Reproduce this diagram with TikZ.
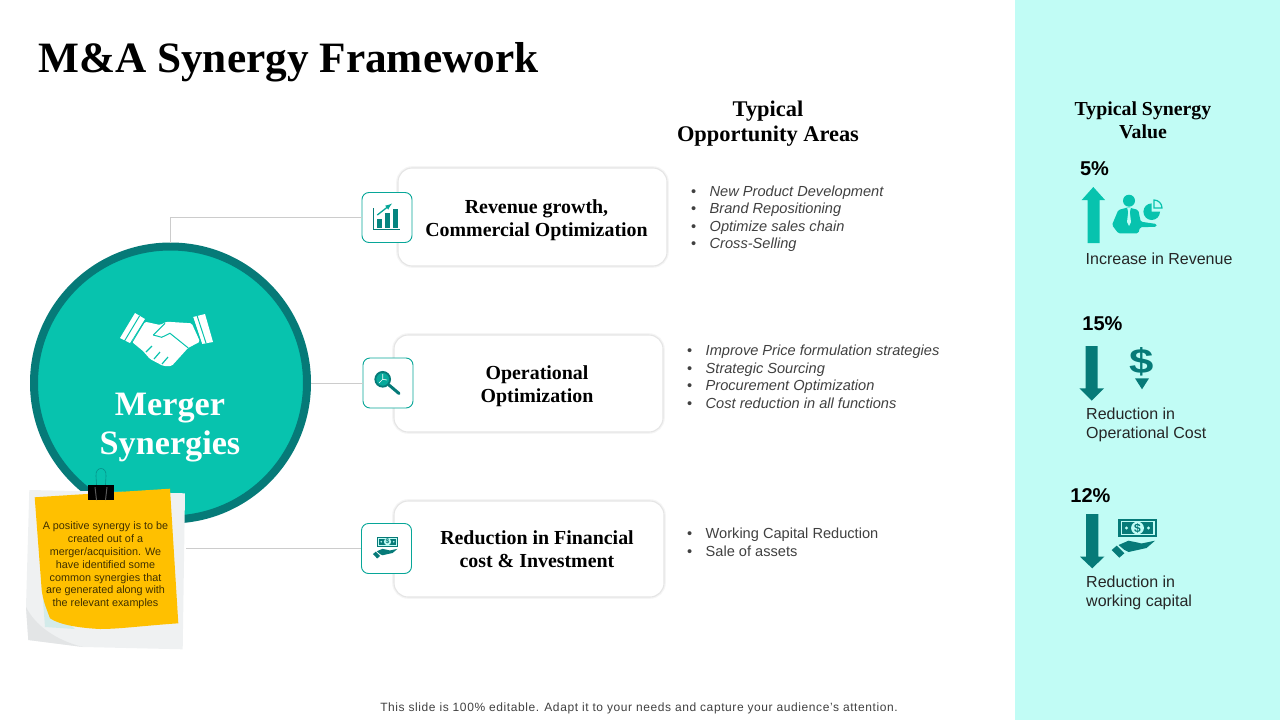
\documentclass[tikz,border=0pt]{standalone}
\usepackage{fontspec}
\setmainfont{Liberation Sans}
\newfontfamily\headfont{Liberation Serif}
\definecolor{brandteal}{HTML}{07C3AE}
\definecolor{ringteal}{HTML}{067A78}
\definecolor{panelcyan}{HTML}{C1FCF5}
\definecolor{noteyellow}{HTML}{FFC000}
\definecolor{sheetgray}{HTML}{EFF1F2}
\definecolor{bodygray}{HTML}{404040}
\tikzset{
  cardbox/.style={preaction={draw=black!4, line width=3.6pt}, draw=black!10, line width=1.1pt, fill=white, rounded corners=14pt, inner sep=0pt},
  iconbox/.style={draw=brandteal!60!ringteal, line width=.9pt, fill=white, rounded corners=7pt, minimum width=50pt, minimum height=50pt, inner sep=0pt},
  cardtext/.style={font=\headfont\bfseries\fontsize{19.9}{23}\selectfont, align=center},
  headtext/.style={font=\headfont\bfseries\fontsize{22.4}{25}\selectfont, align=center},
  listtext/.style={font=\itshape\fontsize{14.6}{17.5}\selectfont, text=bodygray, align=left, anchor=west, inner sep=0pt},
  pcttext/.style={font=\bfseries\fontsize{20}{24}\selectfont},
  valuetext/.style={font=\fontsize{16}{19}\selectfont, text=black!85, align=left, anchor=west, inner sep=0pt},
  linker/.style={draw=black!20, line width=.6pt},
  moneyhand/.pic={
    \fill[ringteal] (-19.2,-8.7) rectangle (19.2,8.7);
    \fill[panelcyan] (-17,-6.9) rectangle (17,6.9);
    \fill[ringteal] (-15.5,-5.6) rectangle (15.5,5.6);
    \fill[panelcyan] (0,0) circle (6.4);
    \fill[panelcyan] (-11,0) circle (1.6);
    \fill[panelcyan] (11,0) circle (1.6);
    \node[transform shape, font=\bfseries\fontsize{12}{12}\selectfont, text=ringteal, inner sep=0pt] (billsign) at (0,0) {\$};
    \fill[ringteal] (-25.8,22) -- (-20.8,17.7) -- (-13.2,25.3) -- (-18.2,29.7) -- cycle;
    \fill[ringteal] (-19,17) -- (-9,12.7) -- (0,14.5) -- (4,15.5) -- (17.5,12.7) -- (9,20) -- (-9,24) -- (-13,22) -- cycle;
  }
}
\newcommand{\bul}{\makebox[18.5pt][l]{\upshape •}}
\begin{document}
\begin{tikzpicture}[x=1pt,y=-1pt]
\useasboundingbox (0,0) rectangle (1280,720);

% Right hand value panel
\fill[panelcyan] (1015,0) rectangle (1280,720);

% Title
\node[font=\headfont\bfseries\fontsize{43.3}{48}\selectfont, anchor=west, inner sep=0pt] (title) at (38,62) {M\&A Synergy Framework};

% Column headings
\node[headtext] (areashead) at (768,124) {Typical\\Opportunity Areas};
\node[headtext, font=\headfont\bfseries\fontsize{19.8}{22.5}\selectfont] (valuehead) at (1143,120.5) {Typical Synergy\\Value};

% Big circle
\node[circle, draw=ringteal, line width=8pt, fill=brandteal, minimum size=273pt, inner sep=0pt] (synergy) at (170.5,383) {};
\node[font=\headfont\bfseries\fontsize{34.2}{39}\selectfont, text=white, align=center] (synergytext) at (170,428) {Merger\\Synergies};

% Handshake
\fill[white] (120,338) -- (135,313) -- (145,319) -- (130,343) -- cycle;
\fill[white] (193,317) -- (205,314) -- (213,342) -- (202,344) -- cycle;
\fill[white, rounded corners=1.5pt] (145,321.7) -- (160,325) -- (166.7,321.7) -- (191.7,323.3) -- (200,341.7) -- (188,348) -- (171.7,366) -- (163.3,366) -- (150,359) -- (143,351) -- (131.7,341.7) -- cycle;
\draw[brandteal, line width=1pt] (153.3,335) -- (165,323.3);
\draw[brandteal, line width=1pt] (153.3,335) -- (161.7,337.3) -- (170,333.3) -- (188.3,348);
\draw[brandteal, line width=1pt] (124.5,341) -- (139.5,316);
\draw[brandteal, line width=1pt] (131,344) -- (146,319);
\draw[brandteal, line width=1pt] (197,315.5) -- (206,343);
\draw[brandteal, line width=1pt] (192.5,317) -- (201.5,344);
\draw[brandteal, line width=1.2pt] (146,352) -- (152,346);
\draw[brandteal, line width=1.2pt] (154,359) -- (160,352);
\draw[brandteal, line width=1.2pt] (162,364) -- (168,357);

% Cards
\node[cardbox, minimum width=269pt, minimum height=98pt] (revenuecard) at (532.5,217) {};
\node[cardbox, minimum width=269pt, minimum height=97pt] (operationcard) at (528.5,383.5) {};
\node[cardbox, minimum width=270pt, minimum height=96pt] (financecard) at (529,549) {};
\node[cardtext] (revenuetext) at (536.5,220.5) {Revenue growth,\\Commercial Optimization};
\node[cardtext] (operationtext) at (537,386.5) {Operational\\Optimization};
\node[cardtext] (financetext) at (537,549) {Reduction in Financial\\cost \& Investment};

% Icon boxes
\node[iconbox] (revenueicon) at (387,217.5) {};
\node[iconbox] (operationicon) at (388,383) {};
\node[iconbox] (financeicon) at (386.5,548.5) {};

% Connectors
\coordinate (noteedge) at (186,548.5);
\draw[linker] (synergy.north) |- (revenueicon.west);
\draw[linker] (synergy.east) -- (operationicon.west);
\draw[linker] (noteedge) -- (financeicon.west);

% Chart icon
\fill[ringteal!85!brandteal] (376.7,219.3) rectangle (381.7,228.3);
\fill[ringteal!85!brandteal] (385,213.3) rectangle (390,228.3);
\fill[ringteal!85!brandteal] (392.7,209.3) rectangle (397.7,228.3);
\draw[ringteal, line width=1pt] (373.3,208.3) -- (373.3,229.3) -- (400,229.3);
\draw[brandteal!60!ringteal, line width=1.3pt, -latex] (377.3,215) -- (392,203.5);

% Magnifier icon
\draw[ringteal, line width=1.8pt, fill=brandteal!65!ringteal] (382.7,379.3) circle (7.4);
\draw[ringteal, line width=3pt, line cap=round] (389,385) -- (399,393.5);
\draw[white, line width=.6pt] (382.7,379.3) -- (382.7,374) (382.7,379.3) -- (379,383) (382.7,379.3) -- (387,380);

% Money icon in box
\pic (smallmoney) [scale=.565] at (387.5,541.7) {moneyhand};

% Bullet lists
\node[listtext] (revenuelist) at (691,218.5) {\bul New Product Development\\\bul Brand Repositioning\\\bul Optimize sales chain\\\bul Cross-Selling};
\node[listtext] (operationlist) at (687,377) {\bul Improve Price formulation strategies\\\bul Strategic Sourcing\\\bul Procurement Optimization\\\bul Cost reduction in all functions};
\node[listtext, font=\fontsize{14.6}{17.5}\selectfont] (financelist) at (687,542.5) {\bul Working Capital Reduction\\\bul Sale of assets};

% Sticky note
\fill[sheetgray] (29.3,490) -- (185,493.3) -- (182.7,649.3) -- (83,647) -- (28.3,640) -- (26,607) -- cycle;
\fill[black!5!sheetgray] (26,607) -- (28.3,640) -- (83,647) .. controls (55,640) and (35,625) .. cycle;
\fill[brandteal!12!sheetgray] (43,600) -- (45,627) -- (75,629) -- cycle;
\fill[noteyellow] (34.7,497.3) -- (170,488.7) -- (178.3,623.3) .. controls (140,626) and (120,629) .. (100,629) .. controls (80,628) and (60,625) .. (50,618.3) .. controls (45,605) and (43,600) .. (41.7,590) -- cycle;
\node[font=\fontsize{10.8}{12.85}\selectfont, text=black!75!noteyellow, align=center, inner sep=0pt] (notetext) at (105.5,565.5) {A positive synergy is to be\\created out of a\\merger/acquisition. We\\have identified some\\common synergies that\\are generated along with\\the relevant examples};

% Binder clip
\draw[ringteal!70!brandteal, line width=.6pt] (97,493) -- (96,476) .. controls (95,466) and (107,466) .. (106,476) -- (105,493);
\fill[black] (88,485.3) rectangle (114,500);
\fill[black!65] (95.5,487) -- (97,500) -- (96,500) -- (94.5,487) -- cycle;
\fill[black!65] (106.5,487) -- (105,500) -- (106,500) -- (107.5,487) -- cycle;

% Value: revenue
\node[pcttext] (revenuepct) at (1094.5,168.5) {5\%};
\fill[brandteal] (1093.3,187) -- (1105,200) -- (1099.5,200) -- (1099.5,243) -- (1087.5,243) -- (1087.5,200) -- (1081.7,200) -- cycle;
\fill[brandteal] (1129,200.7) circle (6);
\fill[brandteal, rounded corners=1.5pt] (1112,225) -- (1118.3,210) -- (1128.3,207.3) -- (1138.3,210) -- (1140.7,221.7) -- (1156.7,224) -- (1156.7,226.7) -- (1140,227.3) -- (1138.3,233.3) -- (1118.3,233.3) -- cycle;
\fill[panelcyan] (1127.2,208) -- (1130.8,208) -- (1129.8,212) -- (1131,222) -- (1129,226) -- (1127,222) -- (1128.2,212) -- cycle;
\fill[brandteal] (1151.7,211.7) -- (1151.7,203.4) arc[start angle=-90, end angle=-360, radius=8.3] -- cycle;
\draw[brandteal, line width=1.2pt, fill=panelcyan] (1154,200) arc[start angle=-90, end angle=0, radius=8] -- (1154,208) -- cycle;
\node[valuetext] (revenuevalue) at (1085.5,258.5) {Increase in Revenue};

% Value: operational cost
\node[pcttext] (operationpct) at (1102.5,323.5) {15\%};
\fill[ringteal] (1085.7,346) -- (1097.7,346) -- (1097.7,388.3) -- (1104,388.3) -- (1091.7,400.7) -- (1079.3,388.3) -- (1085.7,388.3) -- cycle;
\node[font=\bfseries\fontsize{35}{35}\selectfont, text=ringteal, inner sep=0pt, xscale=1.25] (dollarsign) at (1141.7,362) {\$};
\fill[ringteal] (1135,378.3) -- (1149,378.3) -- (1142,389.3) -- cycle;
\node[valuetext] (operationvalue) at (1086,424.5) {Reduction in\\Operational Cost};

% Value: working capital
\node[pcttext] (financepct) at (1090.5,495.5) {12\%};
\fill[ringteal] (1086,514) -- (1098.3,514) -- (1098.3,556.7) -- (1104.3,556.7) -- (1092.2,568.3) -- (1080,556.7) -- (1086,556.7) -- cycle;
\pic (bigmoney) at (1137.5,528) {moneyhand};
\node[valuetext] (financevalue) at (1086,592.5) {Reduction in\\working capital};

% Footer
\node[font=\fontsize{12}{14}\selectfont\addfontfeature{LetterSpace=4.9}, text=bodygray] (footer) at (639,708) {This slide is 100\% editable. Adapt it to your needs and capture your audience's attention.};
\end{tikzpicture}
\end{document}
